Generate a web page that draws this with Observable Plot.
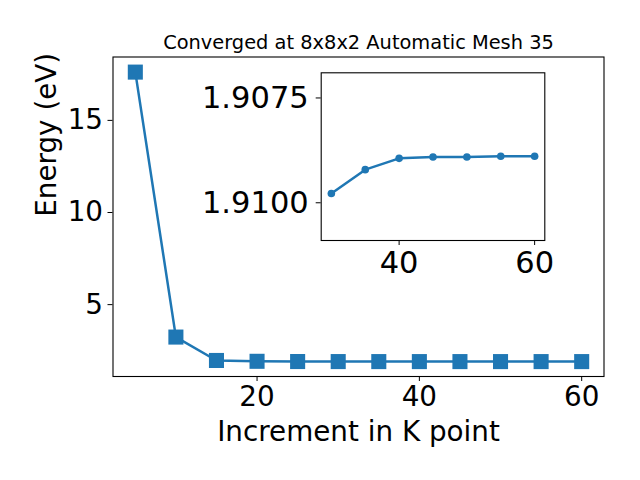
<!DOCTYPE html>
<html>
<head>
<meta charset="utf-8">
<script src="https://cdn.jsdelivr.net/npm/d3@7"></script>
<script src="https://cdn.jsdelivr.net/npm/@observablehq/plot@0.6"></script>
<style>
  html, body { margin: 0; padding: 0; background: white; }
  #chart { position: relative; width: 640px; height: 480px; }
  #chart svg { position: absolute; left: 0; top: 0; }
</style>
</head>
<body>
<div id="chart"></div>
<script>
// Main series
const kpoints = [5, 10, 15, 20, 25, 30, 35, 40, 45, 50, 55, 60];
const energies = [17.62, 3.24, 1.97, 1.925, 1.912, 1.9098, 1.9092, 1.9089, 1.9089, 1.9089, 1.9089, 1.9089];
// Inset series
const insetK = [30, 35, 40, 45, 50, 55, 60];
const insetE = [1.90978, 1.90921, 1.90894, 1.90891, 1.90891, 1.90889, 1.90889];

const xTicks = [20, 40, 60];
const yTicks = [5, 10, 15];
const insetXTicks = [40, 60];
const insetYTicks = [1.9075, 1.9100];

const titleText = "Converged at 8x8x2 Automatic Mesh 35";
const xLabel = "Increment in K point";
const yLabel = "Energy (eV)";

const blue = "#1f77b4";
const font = "DejaVu Sans";

const mainData = kpoints.map((k, i) => ({k, e: energies[i]}));
const insetData = insetK.map((k, i) => ({k, e: insetE[i]}));

const main = Plot.plot({
  width: 640,
  height: 480,
  marginLeft: 112.5,
  marginRight: 36.5,
  marginTop: 56.5,
  marginBottom: 104,
  style: {fontFamily: font, background: "white", color: "black"},
  x: {domain: [2.25, 62.75]},
  y: {domain: [1.1, 18.44]},
  marks: [
    Plot.line(mainData, {x: "k", y: "e", stroke: blue, strokeWidth: 2.5}),
    Plot.dot(mainData, {x: "k", y: "e", symbol: "square", fill: blue, r: 8.5}),
    Plot.frame({stroke: "black", strokeWidth: 1.1}),
    Plot.axisX({ticks: xTicks, tickSize: 5, tickPadding: 5, fontSize: 27.8, label: null, stroke: "black"}),
    Plot.axisY({ticks: yTicks, tickSize: 5, tickPadding: 5, fontSize: 27.8, label: null, stroke: "black"}),
    Plot.text([titleText], {frameAnchor: "top", dy: -8.2, lineAnchor: "bottom", fontSize: 19.4, fill: "black"}),
    Plot.text([xLabel], {frameAnchor: "bottom", dy: 64, lineAnchor: "bottom", fontSize: 27.8, fill: "black"}),
    Plot.text([yLabel], {frameAnchor: "left", dx: -57.5, rotate: -90, lineAnchor: "bottom", fontSize: 27.8, fill: "black"})
  ]
});

const inset = Plot.plot({
  width: 640,
  height: 480,
  marginLeft: 320.7,
  marginRight: 95.7,
  marginTop: 72.3,
  marginBottom: 240,
  style: {fontFamily: font, background: "transparent", color: "black"},
  x: {domain: [28.5, 61.5]},
  y: {domain: [1.9109, 1.9069]},
  marks: [
    Plot.frame({fill: "white", stroke: "black", strokeWidth: 1.1}),
    Plot.line(insetData, {x: "k", y: "e", stroke: blue, strokeWidth: 2.5}),
    Plot.dot(insetData, {x: "k", y: "e", fill: blue, r: 3.8}),
    Plot.axisX({ticks: insetXTicks, tickSize: 5, tickPadding: 6, fontSize: 30.5, label: null, stroke: "black"}),
    Plot.axisY({ticks: insetYTicks, tickFormat: d3.format(".4f"), tickSize: 5, tickPadding: 7.5, fontSize: 30.5, label: null, stroke: "black"})
  ]
});

const chart = document.getElementById("chart");
chart.appendChild(main);
chart.appendChild(inset);
</script>
</body>
</html>
